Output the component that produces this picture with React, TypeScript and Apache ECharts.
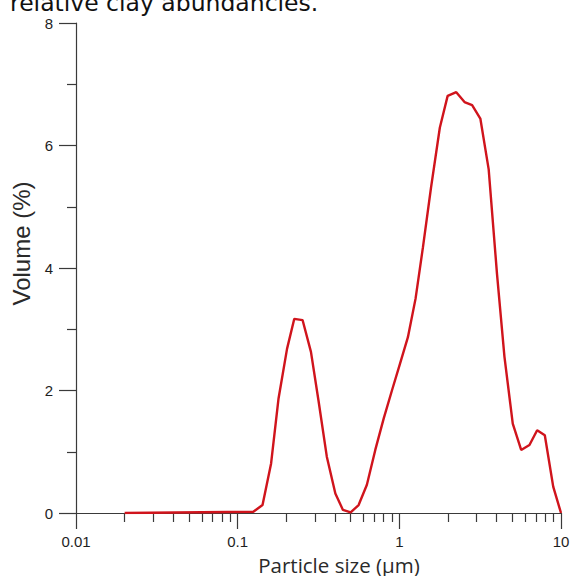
import React, { useEffect, useRef } from "react";
import * as echarts from "echarts";

// Particle size (µm) and volume (%)
const SIZES = [
  0.02, 0.125, 0.1425, 0.161, 0.179, 0.202, 0.224, 0.252, 0.284, 0.316, 0.356, 0.402, 0.448, 0.5,
  0.56, 0.63, 0.71, 0.8, 0.9, 1.01, 1.13, 1.26, 1.4, 1.57, 1.78, 1.99, 2.25, 2.53, 2.82, 3.17,
  3.57, 4.02, 4.47, 5.03, 5.67, 6.38, 7.12, 7.94, 8.95, 10.0,
];
const VOLUMES = [
  0, 0.02, 0.13, 0.81, 1.87, 2.68, 3.17, 3.15, 2.63, 1.84, 0.92, 0.32, 0.05, 0.01,
  0.13, 0.46, 1.03, 1.54, 2.0, 2.44, 2.87, 3.5, 4.34, 5.31, 6.29, 6.81, 6.87, 6.71, 6.66, 6.44,
  5.61, 3.9, 2.55, 1.46, 1.03, 1.11, 1.35, 1.27, 0.43, 0,
];
const MAJOR_X_TICKS = [0.01, 0.1, 1, 10];
const MINOR_X_TICKS = [
  0.02, 0.03, 0.04, 0.05, 0.06, 0.07, 0.08, 0.09,
  0.2, 0.3, 0.4, 0.5, 0.6, 0.7, 0.8, 0.9,
  2, 3, 4, 5, 6, 7, 8, 9,
];
const MAJOR_X_LABELS = ["0.01", "0.1", "1", "10"];
const TITLE_TEXT = "relative clay abundancies.";
const X_NAME = "Particle size (μm)";
const Y_NAME = "Volume (%)";

export default function App() {
  const ref = useRef<HTMLDivElement>(null);
  useEffect(() => {
    if (!ref.current) return;
    const chart = echarts.init(ref.current, null, { renderer: "svg" });
    const axisColor = "#3a3a3a";
    const labelFont = { fontFamily: "Liberation Sans", fontSize: 15, color: "#1e1e1e" };
    chart.setOption({
      animation: false,
      backgroundColor: "#ffffff",
      graphic: [
        {
          type: "text",
          left: 10,
          top: -9,
          style: {
            text: TITLE_TEXT,
            fontFamily: "DejaVu Sans",
            fontSize: 23.5,
            fill: "#111",
          },
        },
      ],
      grid: { left: 76, right: 10, top: 23, bottom: 63, outerBoundsMode: "none", containLabel: false },
      xAxis: [
        {
          type: "log",
          logBase: 10,
          min: 0.01,
          max: 10,
          position: "bottom",
          name: X_NAME,
          nameLocation: "middle",
          nameGap: 41,
          nameTextStyle: {
            fontFamily: "Open Sans",
            fontSize: 20.5,
            color: "#2a2a2a",
            padding: [0, 0, 0, 41],
          },
          axisLine: { show: true, lineStyle: { color: axisColor, width: 1.2 } },
          axisTick: {
            show: true,
            length: 16,
            customValues: MAJOR_X_TICKS,
            lineStyle: { color: axisColor, width: 1.2 },
          },
          axisLabel: {
            ...labelFont,
            margin: 21,
            customValues: MAJOR_X_TICKS,
            formatter: (v: number) => {
              const i = MAJOR_X_TICKS.findIndex((t) => Math.abs(t - v) / t < 1e-6);
              return i >= 0 ? MAJOR_X_LABELS[i] : "";
            },
          },
          splitLine: { show: false },
          minorTick: { show: false },
        },
        {
          type: "log",
          logBase: 10,
          min: 0.01,
          max: 10,
          position: "bottom",
          offset: 0,
          axisLine: { show: false },
          axisTick: {
            show: true,
            length: 9,
            customValues: MINOR_X_TICKS,
            lineStyle: { color: axisColor, width: 1.2 },
          },
          axisLabel: { show: false },
          splitLine: { show: false },
        },
      ],
      yAxis: {
        type: "value",
        min: 0,
        max: 8,
        interval: 2,
        name: Y_NAME,
        nameLocation: "middle",
        nameGap: 43,
        nameTextStyle: {
          fontFamily: "Liberation Sans",
          fontSize: 24,
          color: "#2a2a2a",
          padding: [0, 0, 0, 49],
        },
        axisLine: { show: true, lineStyle: { color: axisColor, width: 1.2 } },
        axisTick: { show: true, length: 17, lineStyle: { color: axisColor, width: 1.2 } },
        minorTick: { show: true, splitNumber: 2, length: 9, lineStyle: { color: axisColor, width: 1.2 } },
        axisLabel: { ...labelFont, margin: 23 },
        splitLine: { show: false },
        minorSplitLine: { show: false },
      },
      series: [
        {
          type: "line",
          xAxisIndex: 0,
          data: SIZES.map((s, i) => [s, VOLUMES[i]]),
          symbol: "none",
          lineStyle: { color: "#d0141c", width: 2.4 },
        },
      ],
    });
    return () => chart.dispose();
  }, []);
  return (
    <div
      ref={ref}
      style={{ position: "fixed", left: 0, top: 0, width: 571, height: 576 }}
    />
  );
}
